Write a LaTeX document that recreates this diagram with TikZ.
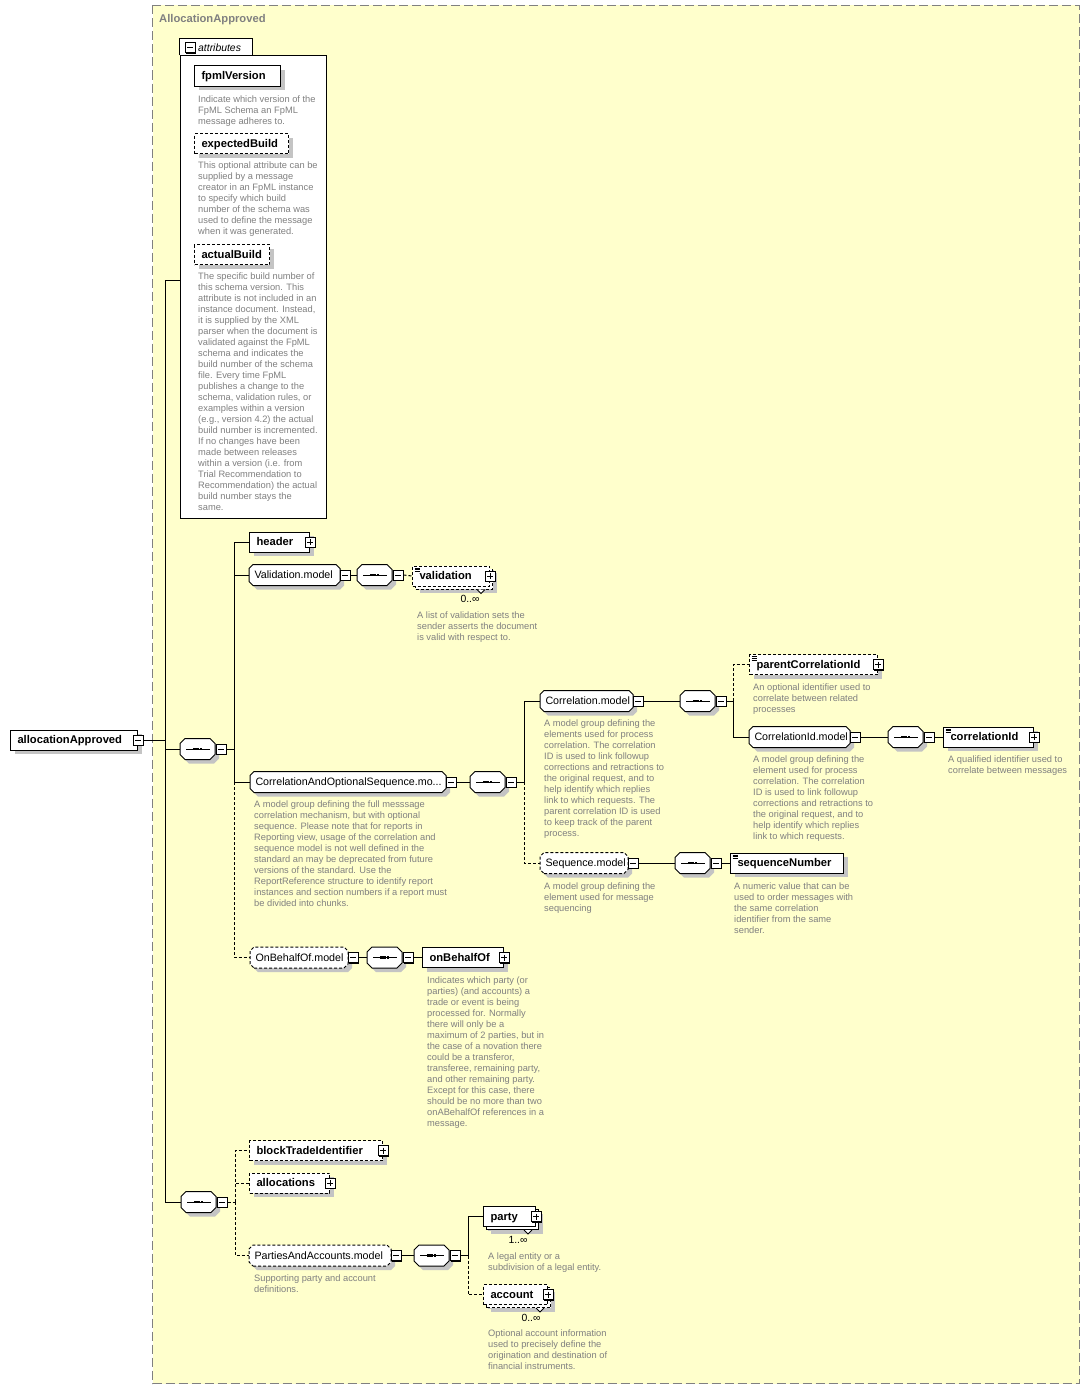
\documentclass[tikz,border=0pt]{standalone}
\usepackage{fontspec}
\setmainfont{Liberation Sans}
\usetikzlibrary{shadows}
\definecolor{xsyellow}{HTML}{FFFFCC}
\definecolor{xsgray}{HTML}{808080}
\definecolor{xsshadow}{HTML}{C4C4C4}

% rectangle with cut corners, for model groups and compositors
\makeatletter
\newdimen\bvL \newdimen\bvR \newdimen\bvB \newdimen\bvT \newdimen\bvC
\pgfkeys{/pgf/bevel size/.initial=4pt}
\pgfdeclareshape{bevelbox}{
  \inheritsavedanchors[from=rectangle]
  \inheritanchorborder[from=rectangle]
  \inheritanchor[from=rectangle]{center}
  \inheritanchor[from=rectangle]{mid}
  \inheritanchor[from=rectangle]{base}
  \inheritanchor[from=rectangle]{north}
  \inheritanchor[from=rectangle]{south}
  \inheritanchor[from=rectangle]{west}
  \inheritanchor[from=rectangle]{east}
  \inheritanchor[from=rectangle]{north west}
  \inheritanchor[from=rectangle]{north east}
  \inheritanchor[from=rectangle]{south west}
  \inheritanchor[from=rectangle]{south east}
  \backgroundpath{%
    \pgfmathsetlength\bvC{\pgfkeysvalueof{/pgf/bevel size}}%
    \southwest \bvL=\pgf@x \bvB=\pgf@y
    \northeast \bvR=\pgf@x \bvT=\pgf@y
    \pgfpathmoveto{\pgfpointadd{\pgfqpoint{\bvL}{\bvB}}{\pgfqpoint{\bvC}{0pt}}}%
    \pgfpathlineto{\pgfpointadd{\pgfqpoint{\bvR}{\bvB}}{\pgfqpoint{-\bvC}{0pt}}}%
    \pgfpathlineto{\pgfpointadd{\pgfqpoint{\bvR}{\bvB}}{\pgfqpoint{0pt}{\bvC}}}%
    \pgfpathlineto{\pgfpointadd{\pgfqpoint{\bvR}{\bvT}}{\pgfqpoint{0pt}{-\bvC}}}%
    \pgfpathlineto{\pgfpointadd{\pgfqpoint{\bvR}{\bvT}}{\pgfqpoint{-\bvC}{0pt}}}%
    \pgfpathlineto{\pgfpointadd{\pgfqpoint{\bvL}{\bvT}}{\pgfqpoint{\bvC}{0pt}}}%
    \pgfpathlineto{\pgfpointadd{\pgfqpoint{\bvL}{\bvT}}{\pgfqpoint{0pt}{-\bvC}}}%
    \pgfpathlineto{\pgfpointadd{\pgfqpoint{\bvL}{\bvB}}{\pgfqpoint{0pt}{\bvC}}}%
    \pgfpathclose
  }
}
\makeatother

\tikzset{
  shade4/.style={general shadow={fill=xsshadow, shadow xshift=4pt, shadow yshift=-4pt}},
  link/.style={line width=1pt},
  opt/.style={dash pattern=on 3pt off 2pt},
  elem/.style={draw, fill=white, line width=1pt, shade4, rectangle, anchor=west,
    minimum height=20pt, inner xsep=7pt, inner ysep=0pt, text height=10pt, text depth=2.5pt,
    align=left, font=\fontsize{11.2}{13}\selectfont\bfseries},
  model/.style={draw, fill=white, line width=1pt, shade4, bevelbox, bevel size=4pt, anchor=west,
    minimum height=20pt, inner xsep=5pt, inner ysep=0pt, text height=10pt, text depth=2.5pt,
    align=left, font=\fontsize{10.7}{12}\selectfont},
  compo/.style={draw, fill=white, line width=1pt, shade4, bevelbox, bevel size=5pt, anchor=west,
    minimum width=34pt, minimum height=20pt, inner sep=0pt,
    path picture={
      \draw[solid, black, line width=1pt] ([xshift=6pt]path picture bounding box.west) -- ([xshift=-5pt]path picture bounding box.east);
      \foreach \s in {-3.2,0,3.2} \fill[black] ([xshift=\s pt]path picture bounding box.center) +(-1.2pt,-1.2pt) rectangle +(1.2pt,1.2pt);
    }},
  multi/.style={general shadow={fill=xsshadow, shadow xshift=7pt, shadow yshift=-7pt},
    copy shadow={shadow xshift=3pt, shadow yshift=-3pt}},
  simple/.style={path picture={
      \foreach \k in {0,1.7,3.4}
        \draw[solid, black, line width=0.7pt] ([shift={(2pt,-2pt-\k pt)}]path picture bounding box.north west) -- ++(5pt,0pt);
    }},
  tog/.style={draw, fill=white, line width=1pt, minimum size=10pt, inner sep=0pt, solid,
    general shadow={fill=black, shadow xshift=1pt, shadow yshift=-1pt}},
  minus/.style={tog, path picture={
      \draw[line width=1pt] ([xshift=2pt]path picture bounding box.west) -- ([xshift=-2pt]path picture bounding box.east);}},
  plus/.style={tog, path picture={
      \draw[line width=1pt] ([xshift=2pt]path picture bounding box.west) -- ([xshift=-2pt]path picture bounding box.east)
        ([yshift=-2pt]path picture bounding box.north) -- ([yshift=2pt]path picture bounding box.south);}},
  note/.style={anchor=north west, inner sep=0pt, align=left, text=xsgray, font=\fontsize{9.3}{11}\selectfont},
  occurs/.style={inner sep=0pt, font=\fontsize{10.4}{12}\selectfont},
  notch/.style={line width=1pt, fill=white},
  seqgrp/.pic={
    \node[compo] (-box) at (0,0) {};
    \node[minus] (-tog) at ([xshift=6pt]-box.east) {};
  }
}

\begin{document}
\begin{tikzpicture}[x=1pt, y=-1pt]
  \useasboundingbox (0,0) rectangle (1090,1389);
  \fill[white] (0,0) rectangle (1090,1389);
  \draw[xsgray, fill=xsyellow, line width=1pt, dash pattern=on 9pt off 4pt] (152.5,5.5) rectangle (1079.5,1383.5);
  \node[anchor=west, inner sep=0pt, text=xsgray, font=\fontsize{11.2}{13}\selectfont\bfseries] (title) at (159,19.5) {AllocationApproved};

  % attributes
  \node[draw, fill=white, line width=1pt, minimum width=146pt, minimum height=462pt, inner sep=0pt] (attr) at (253,287) {};
  \draw[line width=1pt, fill=white] (attr.north west) -- ++(0,-17) -- ++(73,0) -- ++(0,17);
  \node[minus] (attrT) at (190,48) {};
  \node[anchor=west, inner sep=0pt, font=\fontsize{10.4}{12}\selectfont\itshape] (attrL) at (198,48) {attributes};

  \node[elem, text width=72pt] (fpml) at (194,76) {fpmlVersion};
  \node[note] (fpmlD) at (198,95.5) {Indicate which version of the\\FpML Schema an FpML\\message adheres to.};
  \node[elem, opt, text width=80pt] (expb) at (194,143.5) {expectedBuild};
  \node[note] (expbD) at (198,161.5) {This optional attribute can be\\supplied by a message\\creator in an FpML instance\\to specify which build\\number of the schema was\\used to define the message\\when it was generated.};
  \node[elem, opt, text width=61pt] (actb) at (194,254.5) {actualBuild};
  \node[note] (actbD) at (198,272.5) {The specific build number of\\this schema version. This\\attribute is not included in an\\instance document. Instead,\\it is supplied by the XML\\parser when the document is\\validated against the FpML\\schema and indicates the\\build number of the schema\\file. Every time FpML\\publishes a change to the\\schema, validation rules, or\\examples within a version\\(e.g., version 4.2) the actual\\build number is incremented.\\If no changes have been\\made between releases\\within a version (i.e. from\\Trial Recommendation to\\Recommendation) the actual\\build number stays the\\same.};

  % root element
  \node[elem, text width=113pt] (root) at (10,740) {allocationApproved};
  \node[minus] (rootT) at (root.east) {};
  \coordinate (r) at (165,740);
  \draw[link] (rootT.east) -- (r);
  \draw[link] (r) |- ([yshift=7pt]attr.west);

  % first sequence
  \pic (s1) at (180,749) {seqgrp};
  \draw[link] (r) |- (s1-box.west);
  \coordinate (t1) at (234,749);
  \draw[link] (s1-tog.east) -- (t1);

  \node[elem, text width=46pt] (hdr) at (249,542) {header};
  \node[plus] (hdrT) at (hdr.east) {};
  \draw[link] (t1) |- (hdr.west);

  \node[model, text width=80pt] (vm) at (249,575) {Validation.model};
  \node[minus] (vmT) at ([xshift=5pt]vm.east) {};
  \draw[link] (t1) |- (vm.west);
  \pic (s2) at (357,575) {seqgrp};
  \draw[link] (vmT.east) -- (s2-box.west);
  \node[elem, opt, multi, simple, text width=63pt] (val) at (412,576) {validation};
  \node[plus] (valT) at (val.east) {};
  \draw[link, opt] (s2-tog.east) -- (val.west);
  \draw[notch] ([xshift=-13pt, yshift=-3pt]val.south east) -- ++(4,4) -- ++(4,-4);
  \node[occurs] (valM) at (470,599) {0..∞};
  \node[note] (valD) at (417,611.5) {A list of validation sets the\\sender asserts the document\\is valid with respect to.};

  \node[model, text width=185pt] (cos) at (250,782) {CorrelationAndOptionalSequence.mo...};
  \node[minus] (cosT) at ([xshift=5pt]cos.east) {};
  \draw[link] (t1) |- (cos.west);
  \node[note] (cosD) at (254,800.5) {A model group defining the full messsage\\correlation mechanism, but with optional\\sequence. Please note that for reports in\\Reporting view, usage of the correlation and\\sequence model is not well defined in the\\standard an may be deprecated from future\\versions of the standard. Use the\\ReportReference structure to identify report\\instances and section numbers if a report must\\be divided into chunks.};
  \pic (s3) at (470,782) {seqgrp};
  \draw[link] (cosT.east) -- (s3-box.west);
  \coordinate (t3) at (524,782);
  \draw[link] (s3-tog.east) -- (t3);

  % correlation
  \node[model, text width=82pt] (cm) at (540,701) {Correlation.model};
  \node[minus] (cmT) at ([xshift=5pt]cm.east) {};
  \draw[link] (t3) |- (cm.west);
  \node[note] (cmD) at (544,719.5) {A model group defining the\\elements used for process\\correlation. The correlation\\ID is used to link followup\\corrections and retractions to\\the original request, and to\\help identify which replies\\link to which requests. The\\parent correlation ID is used\\to keep track of the parent\\process.};
  \pic (s4) at (680,701) {seqgrp};
  \draw[link] (cmT.east) -- (s4-box.west);
  \coordinate (t4) at (733,701);
  \draw[link] (s4-tog.east) -- (t4);

  \node[elem, opt, simple, text width=114pt] (pci) at (749,664.5) {parentCorrelationId};
  \node[plus] (pciT) at (pci.east) {};
  \draw[link, opt] (t4) |- (pci.west);
  \node[note] (pciD) at (753,683.5) {An optional identifier used to\\correlate between related\\processes};

  \node[model, text width=90pt] (cim) at (749,737) {CorrelationId.model};
  \node[minus] (cimT) at ([xshift=5pt]cim.east) {};
  \draw[link] (t4) |- (cim.west);
  \node[note] (cimD) at (753,755.5) {A model group defining the\\element used for process\\correlation. The correlation\\ID is used to link followup\\corrections and retractions to\\the original request, and to\\help identify which replies\\link to which requests.};
  \pic (s5) at (888,737) {seqgrp};
  \draw[link] (cimT.east) -- (s5-box.west);
  \node[elem, simple, text width=76pt] (cid) at (943,737) {correlationId};
  \node[plus] (cidT) at (cid.east) {};
  \draw[link] (s5-tog.east) -- (cid.west);
  \node[note] (cidD) at (948,755.5) {A qualified identifier used to\\correlate between messages};

  % sequence
  \node[model, opt, text width=77pt] (sm) at (540,863) {Sequence.model};
  \node[minus] (smT) at ([xshift=5pt]sm.east) {};
  \draw[link, opt] (t3) |- (sm.west);
  \node[note] (smD) at (544,882.5) {A model group defining the\\element used for message\\sequencing};
  \pic (s6) at (675,863) {seqgrp};
  \draw[link] (smT.east) -- (s6-box.west);
  \node[elem, simple, text width=99pt] (sqn) at (730,863) {sequenceNumber};
  \draw[link] (s6-tog.east) -- (sqn.west);
  \node[note] (sqnD) at (734,882.5) {A numeric value that can be\\used to order messages with\\the same correlation\\identifier from the same\\sender.};

  % on behalf of
  \node[model, opt, text width=87pt] (obm) at (250,957.5) {OnBehalfOf.model};
  \node[minus] (obmT) at ([xshift=5pt]obm.east) {};
  \draw[link, opt] (t1 |- cos.west) |- (obm.west);
  \pic (s7) at (367,957.5) {seqgrp};
  \draw[link] (obmT.east) -- (s7-box.west);
  \node[elem, text width=67pt] (obo) at (422,957.5) {onBehalfOf};
  \node[plus] (oboT) at (obo.east) {};
  \draw[link] (s7-tog.east) -- (obo.west);
  \node[note] (oboD) at (427,976.5) {Indicates which party (or\\parties) (and accounts) a\\trade or event is being\\processed for. Normally\\there will only be a\\maximum of 2 parties, but in\\the case of a novation there\\could be a transferor,\\transferee, remaining party,\\and other remaining party.\\Except for this case, there\\should be no more than two\\onABehalfOf references in a\\message.};

  % second sequence
  \pic (s8) at (181,1202) {seqgrp};
  \draw[link] (r) |- (s8-box.west);
  \coordinate (t8) at (235,1202);
  \draw[link, opt] (s8-tog.east) -- (t8);

  \node[elem, opt, text width=119pt] (bti) at (249,1150.5) {blockTradeIdentifier};
  \node[plus] (btiT) at (bti.east) {};
  \draw[link, opt] (t8) |- (bti.west);
  \node[elem, opt, text width=66pt] (alc) at (249,1183) {allocations};
  \node[plus] (alcT) at (alc.east) {};
  \draw[link, opt] (t8) |- (alc.west);

  \node[model, opt, text width=131pt] (pam) at (249,1255.5) {PartiesAndAccounts.model};
  \node[minus] (pamT) at ([xshift=5pt]pam.east) {};
  \draw[link, opt] (t8) |- (pam.west);
  \node[note] (pamD) at (254,1274.5) {Supporting party and account\\definitions.};
  \pic (s9) at (414,1255.5) {seqgrp};
  \draw[link] (pamT.east) -- (s9-box.west);
  \coordinate (t9) at (468,1255.5);
  \draw[link] (s9-tog.east) -- (t9);

  \node[elem, multi, text width=38pt] (pty) at (483,1216.5) {party};
  \node[plus] (ptyT) at (pty.east) {};
  \draw[link] (t9) |- (pty.west);
  \draw[notch] ([xshift=-12pt, yshift=-3pt]pty.south east) -- ++(4,4) -- ++(4,-4);
  \node[occurs] (ptyM) at (518,1240) {1..∞};
  \node[note] (ptyD) at (488,1252.5) {A legal entity or a\\subdivision of a legal entity.};

  \node[elem, opt, multi, text width=50pt] (acc) at (483,1294.5) {account};
  \node[plus] (accT) at (acc.east) {};
  \draw[link, opt] (t9) |- (acc.west);
  \draw[notch] ([xshift=-12pt, yshift=-3pt]acc.south east) -- ++(4,4) -- ++(4,-4);
  \node[occurs] (accM) at (531,1318) {0..∞};
  \node[note] (accD) at (488,1329.5) {Optional account information\\used to precisely define the\\origination and destination of\\financial instruments.};
\end{tikzpicture}
\end{document}
